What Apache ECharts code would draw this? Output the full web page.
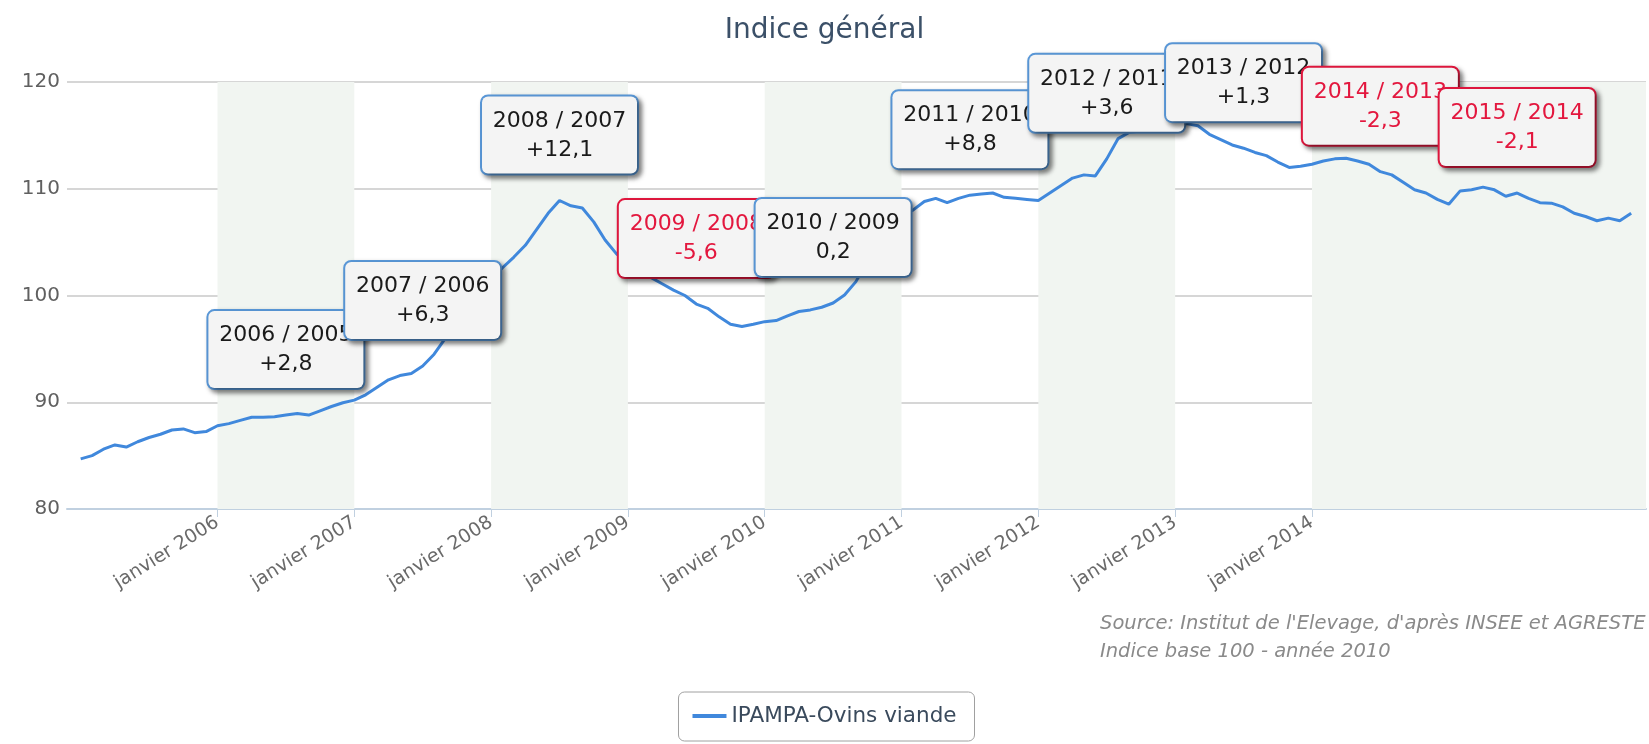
<!DOCTYPE html>
<html>
<head>
<meta charset="utf-8">
<title>Indice général</title>
<script src="https://cdn.jsdelivr.net/npm/echarts@6/dist/echarts.min.js"></script>
<style>
  html, body { margin: 0; padding: 0; background: #fff; }
  #chart { width: 1649px; height: 744px; }
</style>
</head>
<body>
<div id="chart"></div>
<script>
// monthly index, janvier 2005 -> mai 2016
const startYear = 2005;
const ipampa = [
  84.7, 85.0, 85.6, 86.0, 85.8, 86.3, 86.7, 87.0, 87.4, 87.5, 87.15, 87.25,
  87.8, 88.0, 88.3, 88.6, 88.6, 88.65, 88.8, 88.95, 88.8, 89.2, 89.6, 89.95,
  90.2, 90.7, 91.4, 92.1, 92.5, 92.7, 93.4, 94.5, 96.0, 97.6, 99.1, 100.4,
  101.5, 102.6, 103.6, 104.7, 106.2, 107.7, 108.9, 108.4, 108.2, 106.9, 105.2, 103.9,
  103.0, 102.3, 101.7, 101.1, 100.5, 100.0, 99.2, 98.8, 98.0, 97.3, 97.1, 97.3,
  97.55, 97.65, 98.1, 98.5, 98.65, 98.9, 99.3, 100.05, 101.3, 103.2, 105.0, 106.6,
  107.5, 108.0, 108.8, 109.1, 108.7, 109.1, 109.4, 109.5, 109.6, 109.2, 109.1, 109.0,
  108.9, 109.6, 110.3, 111.0, 111.3, 111.2, 112.8, 114.7, 115.3, 115.4, 115.5, 115.5,
  115.7, 116.1, 115.9, 115.1, 114.6, 114.1, 113.8, 113.4, 113.1, 112.5, 112.0, 112.1,
  112.3, 112.6, 112.8, 112.85, 112.6, 112.3, 111.6, 111.3, 110.6, 109.9, 109.6, 109.0,
  108.55, 109.8, 109.9, 110.15, 109.9, 109.3, 109.6, 109.1, 108.7, 108.65, 108.3, 107.7,
  107.4, 107.0, 107.25, 107.0, 107.7
];

// yearly change labels (placed on the July point of each year)
const annYears = [2006, 2007, 2008, 2009, 2010, 2011, 2012, 2013, 2014, 2015];
const annChanges = ['+2,8', '+6,3', '+12,1', '-5,6', '0,2', '+8,8', '+3,6', '+1,3', '-2,3', '-2,1'];

const tickYears = [2006, 2007, 2008, 2009, 2010, 2011, 2012, 2013, 2014];
const bandYears = [[2006, 2007], [2008, 2009], [2010, 2011], [2012, 2013], [2014, null]];
const yTicks = [80, 90, 100, 110, 120];

const blue = '#4088dc';
const red = '#e3173e';

const monthOf = y => (y - startYear) * 12;

const annByMonth = {};
annYears.forEach((y, i) => { annByMonth[monthOf(y) + 6] = i; });

const seriesData = ipampa.map((v, m) => {
  const i = annByMonth[m];
  if (i === undefined) return [m, v];
  const neg = annChanges[i].charAt(0) === '-';
  return {
    value: [m, v],
    label: {
      show: true,
      position: 'top',
      distance: 27,
      formatter: annYears[i] + ' / ' + (annYears[i] - 1) + '\n' + annChanges[i],
      fontFamily: 'DejaVu Sans',
      fontSize: 22,
      lineHeight: 29,
      color: neg ? red : '#1a1a1a',
      align: 'center',
      backgroundColor: '#f4f4f4',
      borderColor: neg ? red : '#5a98d8',
      borderWidth: 2,
      borderRadius: 6,
      padding: [10, 9, 9, 9],
      width: 137,
      shadowColor: 'rgba(0,0,0,0.45)',
      shadowBlur: 5,
      shadowOffsetX: 3,
      shadowOffsetY: 3
    }
  };
});

const chart = echarts.init(document.getElementById('chart'));
chart.setOption({
  animation: false,
  title: [{
    text: 'Indice général',
    left: 'center',
    top: 12,
    textStyle: { fontFamily: 'DejaVu Sans', fontSize: 28, fontWeight: 'normal', color: '#3b5068' }
  }, {
    text: "Source: Institut de l'Elevage, d'après INSEE et AGRESTE\nIndice base 100 - année 2010",
    left: 1095,
    top: 605,
    textStyle: { fontFamily: 'DejaVu Sans', fontSize: 19.5, fontStyle: 'italic', fontWeight: 'normal', color: '#8a8a8a', lineHeight: 28 }
  }],
  legend: {
    data: ['IPAMPA-Ovins viande'],
    left: 'center',
    top: 692,
    icon: 'rect',
    itemWidth: 34,
    itemHeight: 4,
    itemGap: 10,
    padding: [13, 18, 14, 14],
    borderColor: '#a0a0a0',
    borderWidth: 1,
    borderRadius: 6,
    textStyle: { fontFamily: 'DejaVu Sans', fontSize: 21.5, color: '#3a4a5c' }
  },
  grid: { left: 67, right: 3, top: 82, bottom: 235, containLabel: false },
  xAxis: {
    type: 'value',
    min: -1.2,
    max: 137.3,
    splitLine: { show: false },
    axisLine: { show: true, lineStyle: { color: '#c0d0e0', width: 2 } },
    axisTick: {
      show: true,
      length: 8,
      lineStyle: { color: '#c0d0e0', width: 1 },
      customValues: tickYears.map(monthOf)
    },
    axisLabel: {
      customValues: tickYears.map(monthOf),
      formatter: v => 'janvier ' + (startYear + Math.round(v / 12)),
      rotate: 32,
      margin: 12,
      fontFamily: 'DejaVu Sans',
      fontSize: 19,
      color: '#6a6a6a'
    }
  },
  yAxis: {
    type: 'value',
    min: yTicks[0],
    max: yTicks[yTicks.length - 1],
    interval: 10,
    axisLine: { show: false },
    axisTick: { show: false },
    splitLine: { lineStyle: { color: '#d6d6d6', width: 2 } },
    axisLabel: { margin: 7, fontFamily: 'DejaVu Sans', fontSize: 20, color: '#606060' }
  },
  series: [{
    name: 'IPAMPA-Ovins viande',
    type: 'line',
    data: seriesData,
    symbol: 'circle',
    symbolSize: 0,
    showSymbol: true,
    showAllSymbol: true,
    color: blue,
    lineStyle: { color: blue, width: 3 },
    emphasis: { disabled: true },
    markArea: {
      silent: true,
      itemStyle: { color: '#f1f5f1' },
      data: bandYears.map(b => [
        { xAxis: monthOf(b[0]) },
        b[1] === null ? {} : { xAxis: monthOf(b[1]) }
      ])
    }
  }]
});
</script>
</body>
</html>
